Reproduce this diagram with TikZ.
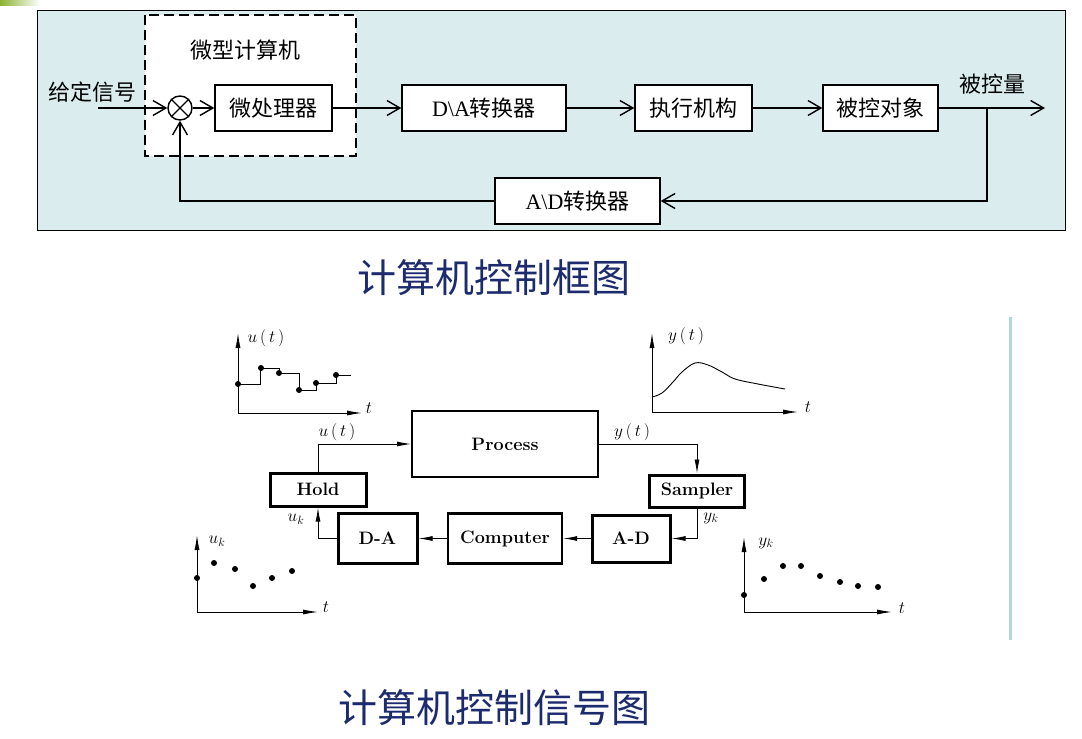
\documentclass[tikz,border=0pt]{standalone}
\usepackage{fontspec}
\newfontfamily\cjk{Noto Sans CJK SC}
\newfontfamily\lser{Liberation Serif}
\usetikzlibrary{arrows.meta,calc}
\definecolor{panel}{RGB}{218,236,238}
\definecolor{navy}{RGB}{28,42,110}
\definecolor{vline}{RGB}{176,214,222}
\definecolor{olive}{RGB}{140,178,50}
\begin{document}
\begin{tikzpicture}[x=1pt,y=-1pt,
 tbox/.style={draw,line width=1.4pt,fill=white,minimum height=46pt,inner sep=0pt,font=\cjk\fontsize{22}{26}\selectfont},
 ttext/.style={font=\cjk\fontsize{22}{26}\selectfont,inner sep=0pt},
 tarr/.style={line width=1.4pt,-{Straight Barb[length=13pt,width=15pt,line width=1.4pt]}},
 bbox/.style={draw,line width=3pt,fill=white,inner sep=0pt,font=\bfseries\fontsize{18}{22}\selectfont},
 barr/.style={line width=0.9pt,-{Latex[length=14pt,width=5pt]}},
 axes/.style={line width=0.9pt,{Latex[length=15pt,width=5pt]}-{Latex[length=15pt,width=5pt]}},
 mlab/.style={inner sep=0pt,font=\fontsize{17.5}{20}\selectfont},
 title/.style={inner sep=0pt,text=navy,font=\cjk\fontsize{39}{44}\selectfont},
 dot/.style={fill,circle,inner sep=0pt,minimum size=6pt}
]
\useasboundingbox (0,0) rectangle (1082,739);
\shade[left color=olive,right color=white] (0,0) rectangle (40,5);
% ---------- top panel ----------
\draw[line width=1pt,fill=panel] (37,10) rectangle (1065,230);
\draw[line width=2.8pt,dash pattern=on 10pt off 5pt,fill=white] (145,15) rectangle (356,156);
\node[ttext] (mclab) at (245,50) {微型计算机};
\node[ttext] (given) at (92,92) {给定信号};
\node[ttext] (outlab) at (992,84) {被控量};
\node[circle,draw,line width=1.4pt,minimum size=24pt,inner sep=0pt,fill=white] (sum) at (180,108) {};
\draw[line width=1.2pt] (sum.north west) -- (sum.south east) (sum.north east) -- (sum.south west);
\node[tbox,minimum width=117pt] (mp) at (273.5,108) {微处理器};
\node[tbox,minimum width=164pt] (da) at (484,108) {{\lser D\textbackslash A}转换器};
\node[tbox,minimum width=117pt] (act) at (693.5,108) {执行机构};
\node[tbox,minimum width=115pt] (obj) at (880.5,108) {被控对象};
\node[tbox,minimum width=165pt] (adc) at (577.5,201) {{\lser A\textbackslash D}转换器};
\coordinate (in) at (98,108);
\coordinate (br) at (987,108);
\coordinate (out) at (1045,108);
\draw[tarr] (in) -- (sum.west);
\draw[tarr] (sum.east) -- (mp.west);
\draw[tarr] (mp.east) -- (da.west);
\draw[tarr] (da.east) -- (act.west);
\draw[tarr] (act.east) -- (obj.west);
\draw[tarr] (obj.east) -- (out);
\draw[tarr] (br) |- (adc.east);
\draw[tarr] (adc.west) -| (sum.south);
% ---------- title 1 ----------
\node[title] (t1) at (494,278) {计算机控制框图};
% ---------- bottom diagram ----------
\node[bbox,line width=2pt,minimum width=186pt,minimum height=66pt] (proc) at (505,444) {Process};
\node[bbox,minimum width=96pt,minimum height=33pt] (hold) at (318,489.5) {Hold};
\node[bbox,minimum width=79pt,minimum height=50pt] (dac) at (377.5,538.5) {D-A};
\node[bbox,line width=2.4pt,minimum width=114pt,minimum height=50pt] (comp) at (505,538.5) {Computer};
\node[bbox,minimum width=78pt,minimum height=47pt] (ad) at (631,538.5) {A-D};
\node[bbox,minimum width=95pt,minimum height=32pt] (samp) at (697,491) {Sampler};
\draw[barr] (hold.north) |- (proc.west);
\draw[barr] (proc.east) -| (samp.north);
\draw[barr] (samp.south) |- (ad.east);
\draw[barr] (ad.west) -- (comp.east);
\draw[barr] (comp.west) -- (dac.east);
\draw[barr] (dac.west) -| (hold.south);
\node[mlab] (lut) at (337,432) {$u\,(\,t\,)$};
\node[mlab] (lyt) at (632,432) {$y\,(\,t\,)$};
\node[mlab] (luk) at (296,519) {$u_k$};
\node[mlab] (lyk) at (711,518) {$y_k$};
% u(t) graph
\draw[axes] (238,333) -- (238,413) -- (362,413);
\node[mlab] (g1y) at (266,338) {$u\,(\,t\,)$};
\node[mlab] (g1t) at (369,408) {$t$};
\draw[line width=0.9pt] (238,384) -- (260,384) -- (260,368) -- (279,368) -- (279,373) -- (299,373) -- (299,390) -- (316,390) -- (316,383) -- (336,383) -- (336,375) -- (351,375);
\foreach \p in {(238,384),(261,368),(279,373),(299,390),(316,383),(336,375)} \node[dot] at \p {};
% y(t) graph
\draw[axes] (652,333) -- (652,412) -- (798,412);
\node[mlab] (g2y) at (686,336) {$y\,(\,t\,)$};
\node[mlab] (g2t) at (808,407) {$t$};
\draw[line width=0.9pt] plot[smooth,tension=0.6] coordinates {(652,397) (662,393) (673,382) (682,372) (695,363) (708,365) (722,372) (735,379) (758,384) (785,389)};
% u_k graph
\draw[axes] (197,535) -- (197,612) -- (318,612);
\node[mlab] (g3y) at (217,541) {$u_k$};
\node[mlab] (g3t) at (326,607) {$t$};
\foreach \p in {(197,578),(214,563),(235,569),(253,586),(272,578),(292,571)} \node[dot] at \p {};
% y_k graph
\draw[axes] (744,537) -- (744,612) -- (892,612);
\node[mlab] (g4y) at (766,543) {$y_k$};
\node[mlab] (g4t) at (902,608) {$t$};
\foreach \p in {(744,595),(764,579),(783,566),(801,566),(820,576),(840,582),(858,586),(878,587)} \node[dot] at \p {};
\draw[vline,line width=3pt] (1010,317) -- (1010,640);
% ---------- title 2 ----------
\node[title] (t2) at (494,708) {计算机控制信号图};
\end{tikzpicture}
\end{document}
